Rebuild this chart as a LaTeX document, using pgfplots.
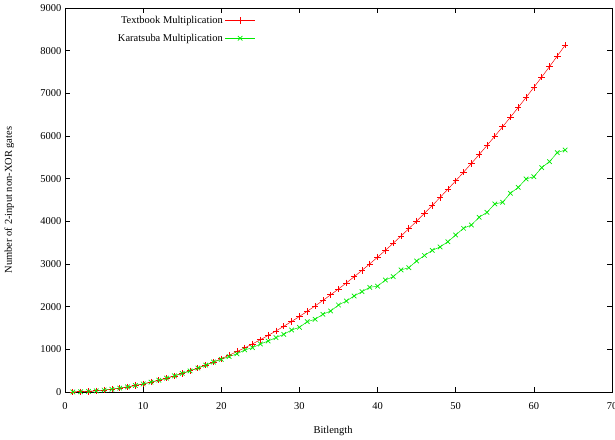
\documentclass[border=0pt]{standalone}
\usepackage{pgfplots}
\pgfplotsset{compat=1.18}
\usepackage{fontspec}
\setmainfont{Liberation Serif}
\definecolor{gpred}{RGB}{255,0,0}
\definecolor{gpgreen}{RGB}{0,235,0}

\begin{document}
\fontsize{10.5}{12}\selectfont
\begin{tikzpicture}
\begin{axis}[
    name=ax,
    scale only axis,
    width=547bp, height=384bp,
    xmin=0, xmax=70, ymin=0, ymax=9000,
    xtick={0,10,...,70},
    ytick={0,1000,...,9000},
    minor tick num=0,
    major tick length=5bp,
    tick style={black, line width=0.6pt},
    axis line style={line width=0.8pt},
    /pgf/number format/assume math mode=true,
    scaled y ticks=false,
    yticklabel style={/pgf/number format/1000 sep={}},
    xticklabel style={yshift=-7bp},
    tick label style={font=\fontsize{10.5}{12}\selectfont},
    xlabel={Bitlength},
    ylabel={Number of 2-input non-XOR gates},
    label style={font=\fontsize{10.5}{12}\selectfont},
    xlabel style={at={(0.49,0)}, yshift=-31bp},
    ylabel style={yshift=19bp},
    legend cell align=right,
    legend plot pos=right,
    legend style={draw=none, fill=none, at={(0.352,0.99)}, anchor=north east,
        font=\fontsize{10.5}{12}\selectfont, row sep=5bp, inner sep=2bp},
    legend image code/.code={%
        \draw[mark repeat=2,mark phase=2,#1] plot coordinates {(6bp,0bp) (21bp,0bp) (36bp,0bp)};},
]
\addplot[gpred, line width=0.5pt, mark=+, mark size=3.2bp, mark options={line width=0.7pt}] coordinates {
(1,1) (2,6) (3,15) (4,28) (5,45) (6,66) (7,91) (8,120) (9,153) (10,190)
(11,231) (12,276) (13,325) (14,378) (15,435) (16,496) (17,561) (18,630) (19,703) (20,780)
(21,861) (22,946) (23,1035) (24,1128) (25,1225) (26,1326) (27,1431) (28,1540) (29,1653) (30,1770)
(31,1891) (32,2016) (33,2145) (34,2278) (35,2415) (36,2556) (37,2701) (38,2850) (39,3003) (40,3160)
(41,3321) (42,3486) (43,3655) (44,3828) (45,4005) (46,4186) (47,4371) (48,4560) (49,4753) (50,4950)
(51,5151) (52,5356) (53,5565) (54,5778) (55,5995) (56,6216) (57,6441) (58,6670) (59,6903) (60,7140)
(61,7381) (62,7626) (63,7875) (64,8128)
};
\addlegendentry{Textbook Multiplication}
\addplot[gpgreen, line width=0.5pt, mark=x, mark size=3.2bp, mark options={line width=0.7pt}] coordinates {
(1,1) (2,6) (3,15) (4,28) (5,45) (6,66) (7,91) (8,120) (9,153) (10,190)
(11,231) (12,276) (13,325) (14,378) (15,435) (16,496) (17,561) (18,630) (19,703) (20,765)
(21,830) (22,895) (23,985) (24,1040) (25,1125) (26,1195) (27,1275) (28,1352) (29,1453) (30,1516)
(31,1648) (32,1704) (33,1821) (34,1899) (35,2039) (36,2133) (37,2250) (38,2351) (39,2454) (40,2480)
(41,2625) (42,2703) (43,2860) (44,2914) (45,3071) (46,3200) (47,3320) (48,3400) (49,3523) (50,3680)
(51,3837) (52,3914) (53,4095) (54,4212) (55,4407) (56,4446) (57,4657) (58,4795) (59,4993) (60,5047)
(61,5258) (62,5399) (63,5610) (64,5672)
};
\addlegendentry{Karatsuba Multiplication}
\end{axis}
\pgfresetboundingbox
\path ([shift={(-65bp,-48bp)}]ax.south west) rectangle ([shift={(3bp,8bp)}]ax.north east);
\end{tikzpicture}
\end{document}
